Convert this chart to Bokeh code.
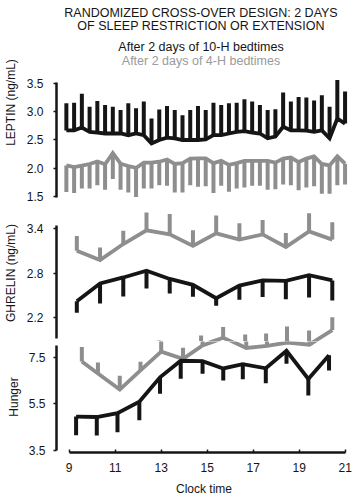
from bokeh.plotting import figure
from bokeh.models import Range1d, FixedTicker, PrintfTickFormatter, Label
from bokeh.layouts import column
from bokeh.embed import file_html
from bokeh.resources import INLINE

BLACK = "#151515"
GRAY = "#8e8e8e"
GRAY_TEXT = "#9a9a9a"
FONT = "Liberation Sans"

# ---------------- data ----------------
# Leptin: sampled every 20 min, 09:00-21:00
leptin_minutes = list(range(540, 1261, 20))
leptin_10h_mean = [2.67, 2.67, 2.72, 2.645, 2.63, 2.615, 2.615, 2.615, 2.585, 2.615, 2.585, 2.44,
                   2.50, 2.54, 2.53, 2.50, 2.50, 2.50, 2.51, 2.585, 2.585, 2.615, 2.645, 2.655,
                   2.63, 2.615, 2.53, 2.56, 2.735, 2.67, 2.67, 2.665, 2.645, 2.67, 2.53, 2.88, 2.79]
leptin_10h_sem = [.48, .49, .60, .445, .56, .505, .475, .415, .565, .445, .595, .44,
                  .54, .56, .50, .44, .53, .60, .52, .575, .535, .535, .515, .565,
                  .55, .505, .50, .485, .605, .51, .59, .585, .555, .62, .56, .68, .57]
leptin_4h_mean = [2.05, 2.02, 2.045, 2.075, 2.12, 2.07, 2.27, 2.08, 2.04, 2.005, 2.10, 2.10,
                  2.115, 2.155, 2.075, 2.09, 2.17, 2.175, 2.175, 2.09, 2.13, 2.06, 2.09, 2.13,
                  2.13, 2.13, 2.13, 2.10, 2.17, 2.19, 2.11, 2.17, 2.21, 2.075, 2.05, 2.21, 2.08]
leptin_4h_sem = [.47, .46, .405, .435, .42, .45, .46, .46, .47, .515, .46, .46,
                 .415, .465, .505, .52, .47, .505, .495, .53, .44, .475, .45, .47,
                 .44, .44, .51, .47, .46, .49, .50, .51, .53, .525, .50, .51, .37]

# Ghrelin: hourly
ghrelin_hours = [9.45, 10.45, 11.45, 12.45, 13.45, 14.45, 15.45, 16.45, 17.45, 18.45, 19.45, 20.45]
ghrelin_10h_mean = [2.42, 2.66, 2.74, 2.83, 2.72, 2.64, 2.46, 2.63, 2.70, 2.695, 2.77, 2.70]
ghrelin_10h_sem = [.155, .27, .255, .24, .195, .16, .10, .19, .225, .25, .30, .27]
ghrelin_4h_mean = [3.10, 2.975, 3.19, 3.375, 3.32, 3.165, 3.335, 3.25, 3.32, 3.15, 3.36, 3.25]
ghrelin_4h_sem = [.20, .17, .18, .24, .275, .21, .24, .22, .195, .19, .245, .235]

# Hunger ratings
hunger_10h_hours = [9.3, 10.2, 11.1, 12.05, 12.95, 13.85, 14.8, 15.7, 16.55, 17.55, 18.45, 19.4, 20.3]
hunger_10h_mean = [4.96, 4.94, 5.11, 5.60, 6.65, 7.36, 7.34, 7.03, 7.21, 7.035, 7.79, 6.575, 7.60]
hunger_10h_sem = [.80, .80, .82, .80, .71, .77, .54, .52, .645, .645, .56, .71, .66]
hunger_4h_hours = [9.55, 10.25, 11.2, 12.1, 13.0, 13.95, 14.8, 15.75, 16.7, 17.6, 18.5, 19.45, 20.45]
hunger_4h_mean = [7.33, 6.81, 6.12, 6.95, 7.75, 7.44, 8.02, 8.35, 7.91, 8.00, 8.145, 8.05, 8.68]
hunger_4h_sem = [.62, .47, .60, .37, .48, .48, .43, .46, .58, .53, .69, .61, .55]

x_ticks = [9, 11, 13, 15, 17, 19, 21]
leptin_ticks = [1.5, 2.0, 2.5, 3.0, 3.5]
ghrelin_ticks = [2.2, 2.8, 3.4]
hunger_ticks = [3.5, 5.5, 7.5]

title_lines = ["RANDOMIZED CROSS-OVER DESIGN: 2 DAYS", "OF SLEEP RESTRICTION OR EXTENSION"]
legend_10h = "After 2 days of 10-H bedtimes"
legend_4h = "After 2 days of 4-H bedtimes"


# ---------------- helpers ----------------
def make_fig(height, x_range, y_range, left, top, bottom, with_xaxis):
    f = figure(width=352, height=height, output_backend="svg", toolbar_location=None,
               x_range=x_range, y_range=y_range,
               x_axis_location="below" if with_xaxis else None, title_location=None,
               min_border_left=left, min_border_right=1, min_border_top=top,
               min_border_bottom=bottom)
    f.outline_line_color = None
    f.grid.visible = False
    f.background_fill_color = "white"
    f.border_fill_color = "white"
    return f


def style_yaxis(f, ticks, bounds, label, label_standoff, axis_label_standoff):
    ax = f.yaxis[0]
    ax.ticker = FixedTicker(ticks=ticks)
    ax.formatter = PrintfTickFormatter(format="%.1f")
    ax.bounds = bounds
    ax.axis_label = label
    ax.axis_line_width = 2.5
    ax.axis_line_color = BLACK
    ax.major_tick_out = 3
    ax.major_tick_in = 0
    ax.major_tick_line_width = 1.5
    ax.major_tick_line_color = BLACK
    ax.minor_tick_line_color = None
    ax.major_label_standoff = label_standoff
    ax.axis_label_standoff = axis_label_standoff
    ax.major_label_text_font = FONT
    ax.major_label_text_font_size = "12px"
    ax.major_label_text_color = BLACK
    ax.axis_label_text_font = FONT
    ax.axis_label_text_font_size = "12px"
    ax.axis_label_text_font_style = "normal"
    ax.axis_label_text_color = BLACK


def series(f, xs, mean, sem, up, color, rng="default"):
    ends = [m + s if up else m - s for m, s in zip(mean, sem)]
    f.segment(x0=xs, y0=mean, x1=xs, y1=ends, y_range_name=rng,
              line_color=color, line_width=4, line_cap="butt")
    f.line(xs, mean, y_range_name=rng, line_color=color, line_width=3.8, line_join="miter")


# ---------------- leptin panel (frame also holds the heading) ----------------
x_upper = Range1d(8.575, 21.277)
p1 = make_fig(204, x_upper, Range1d(1.358, 4.969), 52, 0, 0, False)
style_yaxis(p1, leptin_ticks, (1.48, 3.52), "LEPTIN (ng/mL)", 10, 6)
leptin_hours = [m / 60 for m in leptin_minutes]
series(p1, leptin_hours, leptin_4h_mean, leptin_4h_sem, False, GRAY)
series(p1, leptin_hours, leptin_10h_mean, leptin_10h_sem, True, BLACK)

for text, color, y in [(title_lines[0], BLACK, 192), (title_lines[1], BLACK, 179),
                       (legend_10h, BLACK, 157.5), (legend_4h, GRAY_TEXT, 144)]:
    p1.add_layout(Label(x=144.5, y=y, x_units="screen", y_units="screen", text=text,
                        text_align="center", text_baseline="alphabetic",
                        text_font=FONT, text_font_size="12.5px", text_color=color))

# ---------------- ghrelin panel ----------------
p2 = make_fig(137, x_upper, Range1d(1.877, 3.723), 52, 0, 0, False)
p2.extra_y_ranges = {"hunger": Range1d(8.188, 14.081)}
style_yaxis(p2, ghrelin_ticks, (1.92, 3.44), "GHRELIN (ng/mL)", 10, 6)
series(p2, ghrelin_hours, ghrelin_4h_mean, ghrelin_4h_sem, True, GRAY)
series(p2, ghrelin_hours, ghrelin_10h_mean, ghrelin_10h_sem, False, BLACK)
# upper part of the hunger curves runs into this panel
series(p2, hunger_4h_hours, hunger_4h_mean, hunger_4h_sem, True, GRAY, "hunger")
series(p2, hunger_10h_hours, hunger_10h_mean, hunger_10h_sem, False, BLACK, "hunger")

# ---------------- hunger panel ----------------
p3 = make_fig(158, Range1d(8.448, 21.277), Range1d(3.414, 8.188), 49, 0, 47, True)
style_yaxis(p3, hunger_ticks, (3.5, 8.02), "Hunger", 8, 5)
series(p3, hunger_4h_hours, hunger_4h_mean, hunger_4h_sem, True, GRAY)
series(p3, hunger_10h_hours, hunger_10h_mean, hunger_10h_sem, False, BLACK)

xa = p3.xaxis[0]
xa.bounds = (9, 21)
xa.ticker = FixedTicker(ticks=x_ticks)
xa.axis_label = "Clock time"
xa.axis_line_width = 2.5
xa.axis_line_color = BLACK
xa.major_tick_in = 3
xa.major_tick_out = 0
xa.major_tick_line_width = 1.5
xa.major_tick_line_color = BLACK
xa.minor_tick_line_color = None
xa.major_label_standoff = 10
xa.axis_label_standoff = 7
xa.major_label_text_font = FONT
xa.major_label_text_font_size = "12px"
xa.major_label_text_color = BLACK
xa.axis_label_text_font = FONT
xa.axis_label_text_font_size = "12px"
xa.axis_label_text_font_style = "normal"
xa.axis_label_text_color = BLACK

layout = column(p1, p2, p3, spacing=0)
open("out.html", "w").write(file_html(layout, INLINE))
